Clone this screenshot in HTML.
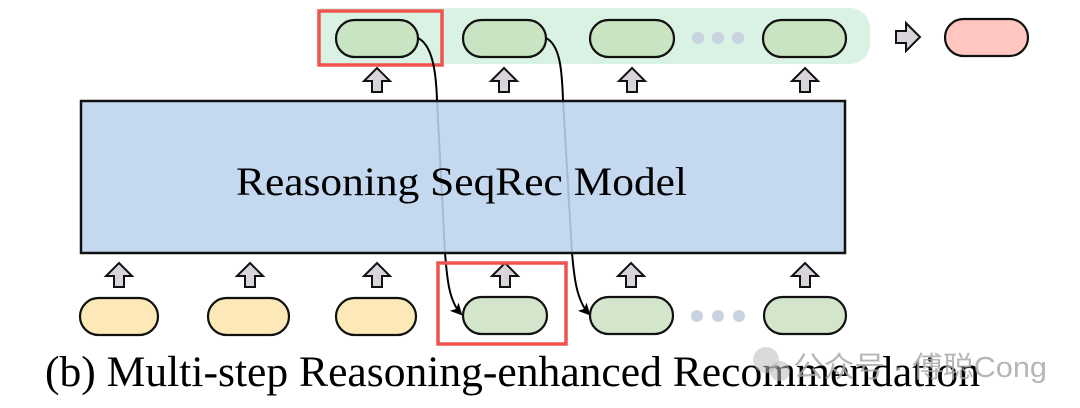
<!DOCTYPE html>
<html><head><meta charset="utf-8"><style>
html,body{margin:0;padding:0;background:#fff;}
svg{display:block;}
</style></head><body>
<svg width="1080" height="408" viewBox="0 0 1080 408" xmlns="http://www.w3.org/2000/svg">
<defs>
<g id="up"><path d="M0,-12 L13,1 L5,1 L5,12 L-5,12 L-5,1 L-13,1 Z" fill="#d9d4dc" stroke="#111" stroke-width="2" stroke-linejoin="miter"/></g>
<marker id="ah" markerWidth="12" markerHeight="12" refX="10" refY="6" orient="auto" markerUnits="userSpaceOnUse"><path d="M0,0 L12,6 L0,12 L3,6 Z" fill="#000"/></marker>
</defs>
<path d="M320,8 H850 A20,20 0 0 1 870,28 V44 A20,20 0 0 1 850,64 H320 Z" fill="#daf2e3"/>
<rect x="336" y="20" width="82" height="37" rx="18.5" fill="#c8e4c3" stroke="#111" stroke-width="2.2"/>
<rect x="463" y="20" width="83" height="37" rx="18.5" fill="#c8e4c3" stroke="#111" stroke-width="2.2"/>
<rect x="590" y="20" width="84" height="37" rx="18.5" fill="#c8e4c3" stroke="#111" stroke-width="2.2"/>
<rect x="763" y="20" width="83" height="37" rx="18.5" fill="#c8e4c3" stroke="#111" stroke-width="2.2"/>
<circle cx="698" cy="38" r="6" fill="#c9d3e0"/><circle cx="718" cy="38" r="6" fill="#c9d3e0"/><circle cx="738" cy="38" r="6" fill="#c9d3e0"/>
<rect x="319" y="11" width="123" height="54" fill="none" stroke="#f0524f" stroke-width="3.5"/>
<path d="M896,31 L906,31 L906,23 L920,37 L906,51 L906,43 L896,43 Z" fill="#d9d4dc" stroke="#111" stroke-width="2"/>
<rect x="945" y="19" width="83" height="37" rx="18.5" fill="#ffc7c0" stroke="#111" stroke-width="2.2"/>
<use href="#up" x="377" y="80"/><use href="#up" x="504" y="80"/><use href="#up" x="632" y="80"/><use href="#up" x="805" y="80"/>
<path d="M418,38 C432,45 436,70 437,100 L445,253 C447,275 448,300 461,314" fill="none" stroke="#000" stroke-width="2" marker-end="url(#ah)"/>
<path d="M546,38 C560,45 562,70 563,100 L572,253 C574,275 576,300 589,314" fill="none" stroke="#000" stroke-width="2" marker-end="url(#ah)"/>
<rect x="81" y="101" width="764" height="152" fill="#bcd3ee" fill-opacity="0.88" stroke="#111" stroke-width="2.5"/>
<text x="236" y="195" font-family="Liberation Serif, serif" font-size="40" textLength="451" lengthAdjust="spacingAndGlyphs" fill="#000">Reasoning SeqRec Model</text>
<use href="#up" x="119" y="275"/><use href="#up" x="250" y="275"/><use href="#up" x="377" y="275"/><use href="#up" x="505" y="275"/><use href="#up" x="631" y="275"/><use href="#up" x="805" y="275"/>
<rect x="80" y="298" width="78" height="37" rx="18.5" fill="#fde9b8" stroke="#111" stroke-width="2.2"/>
<rect x="208" y="298" width="81" height="37" rx="18.5" fill="#fde9b8" stroke="#111" stroke-width="2.2"/>
<rect x="336" y="298" width="80" height="37" rx="18.5" fill="#fde9b8" stroke="#111" stroke-width="2.2"/>
<rect x="463" y="297" width="84" height="37" rx="18.5" fill="#d3e6cb" stroke="#111" stroke-width="2.2"/>
<rect x="590" y="297" width="83" height="37" rx="18.5" fill="#d3e6cb" stroke="#111" stroke-width="2.2"/>
<rect x="764" y="297" width="82" height="37" rx="18.5" fill="#d3e6cb" stroke="#111" stroke-width="2.2"/>
<circle cx="697" cy="316" r="6" fill="#c9d3e0"/><circle cx="718" cy="316" r="6" fill="#c9d3e0"/><circle cx="739" cy="316" r="6" fill="#c9d3e0"/>
<rect x="438" y="263" width="128" height="81" fill="none" stroke="#f0524f" stroke-width="3.5"/>
<text x="45" y="386" font-family="Liberation Serif, serif" font-size="43" textLength="935" lengthAdjust="spacingAndGlyphs" fill="#000">(b) Multi-step Reasoning-enhanced Recommendation</text>
<circle cx="766" cy="360" r="13" fill="#bbb" opacity="0.55"/><circle cx="780" cy="371" r="10" fill="#bbb" opacity="0.55"/>
<text x="793" y="377" font-family="Liberation Sans, Noto Sans CJK SC, sans-serif" font-size="29" textLength="254" lengthAdjust="spacingAndGlyphs" fill="#aaa" opacity="0.85">公众号 · 傅聪Cong</text>
</svg>
</body></html>
